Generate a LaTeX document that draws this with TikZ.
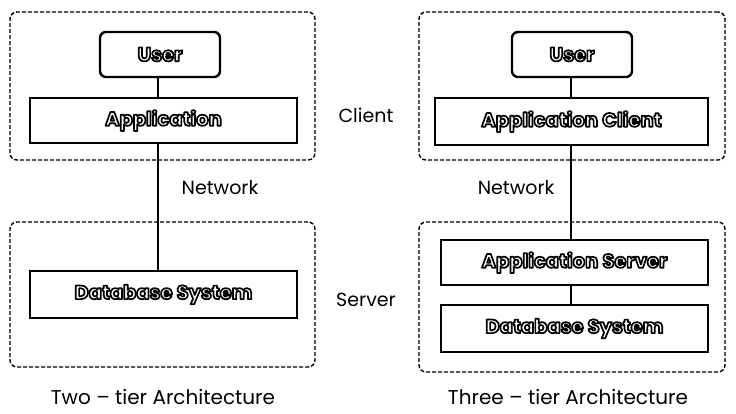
\documentclass[tikz,border=0pt]{standalone}
\usepackage{fontspec}
\setmainfont{Poppins}
\usetikzlibrary{positioning}
\newcommand{\hollow}[1]{\textcolor{white}{\special{pdf:literal direct 2 Tr 1.7 w 0 G 1 j}#1\special{pdf:literal direct 0 Tr}}}

\begin{document}
\begin{tikzpicture}[x=1pt, y=-1pt, font=\fontsize{19}{22}\selectfont,
  tier/.style={draw, line width=1.4pt, dash pattern=on 4pt off 2pt, rounded corners=7pt, minimum width=305pt},
  unit/.style={draw, line width=2.4pt, inner sep=0pt, font=\fontsize{19.5}{22}\selectfont\bfseries},
  wire/.style={line width=1.4pt}]
\useasboundingbox (0,0) rectangle (736,413);
% two tier
\node[tier, minimum height=148pt] (cl1) at (162.5,86) {};
\node[tier, minimum height=145pt] (sv1) at (162.5,294.5) {};
\node[unit, rounded corners=6pt, minimum width=120pt, minimum height=45pt] (usr1) at (160,54.5) {\hollow{User}};
\node[unit, minimum width=267pt, minimum height=45pt] (app1) at (163.5,120.5) {\hollow{Application}};
\node[unit, minimum width=267pt, minimum height=47pt] (db1) at (163.5,294.5) {\hollow{Database System}};
\draw[wire] (usr1.south -| 158,0) -- (app1.north -| 158,0);
\draw[wire] (app1.south -| 158,0) -- (db1.north -| 158,0);
\node (net1) at (220,188) {Network};
\node[font=\fontsize{20}{22}\selectfont] (cap1) at (163,397) {Two -- tier Architecture};
% middle labels
\node (client) at (366,115) {Client};
\node (server) at (366,300) {Server};
% three tier
\node[tier, minimum width=306pt, minimum height=148pt] (cl2) at (572,86) {};
\node[tier, minimum width=306pt, minimum height=150pt] (sv2) at (572,297) {};
\node[unit, rounded corners=6pt, minimum width=120pt, minimum height=45pt] (usr2) at (572,54.5) {\hollow{User}};
\node[unit, minimum width=273pt, minimum height=47pt] (app2) at (571.5,121.5) {\hollow{Application Client}};
\node[unit, minimum width=267pt, minimum height=45pt] (srv2) at (574.5,262.5) {\hollow{Application Server}};
\node[unit, minimum width=267pt, minimum height=47pt] (db2) at (574.5,328.5) {\hollow{Database System}};
\draw[wire] (usr2.south -| 571,0) -- (app2.north -| 571,0);
\draw[wire] (app2.south -| 571,0) -- (srv2.north -| 571,0);
\draw[wire] (srv2.south -| 571,0) -- (db2.north -| 571,0);
\node[left] (net2) at (558,188) {Network};
\node[font=\fontsize{20}{22}\selectfont] (cap2) at (568,397) {Three -- tier Architecture};
\end{tikzpicture}
\end{document}
